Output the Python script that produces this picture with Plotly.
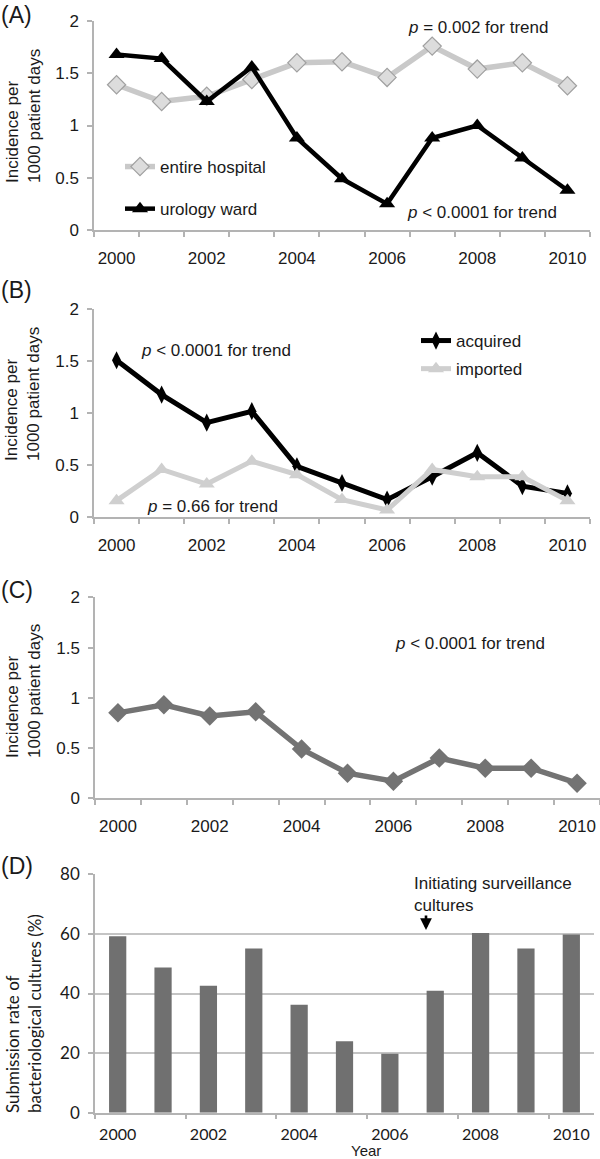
import plotly.graph_objects as go

# ---------------- data ----------------
years = [2000, 2001, 2002, 2003, 2004, 2005, 2006, 2007, 2008, 2009, 2010]
tick_years = [2000, 2002, 2004, 2006, 2008, 2010]

entire_hospital = [1.39, 1.23, 1.28, 1.44, 1.60, 1.61, 1.46, 1.76, 1.54, 1.60, 1.38]
urology_ward = [1.68, 1.64, 1.23, 1.56, 0.88, 0.49, 0.25, 0.88, 1.00, 0.69, 0.38]

acquired = [1.51, 1.18, 0.91, 1.02, 0.49, 0.33, 0.17, 0.39, 0.62, 0.30, 0.23]
imported = [0.16, 0.46, 0.32, 0.54, 0.41, 0.17, 0.07, 0.46, 0.39, 0.39, 0.16]

overall_c = [0.85, 0.93, 0.82, 0.86, 0.49, 0.25, 0.17, 0.40, 0.30, 0.30, 0.15]

submission_rate = [59.2, 48.7, 42.6, 55.1, 36.2, 24.0, 19.8, 40.9, 60.3, 55.1, 59.8]

# ---------------- styling ----------------
W, H = 600, 1159
ARIAL = "Liberation Sans, Arial, sans-serif"
CALIBRI = "Lato, Carlito, Open Sans, sans-serif"
AXIS_COLOR = "#b3b3b3"
TEXT_COLOR = "#1a1a1a"


def px_x(p):
    return p / W


def px_y(p):
    return 1 - p / H


fig = go.Figure()

# Panel A
fig.add_trace(go.Scatter(
    x=years, y=entire_hospital, name="entire hospital", mode="lines+markers",
    line=dict(color="#c9c9c9", width=5.5),
    marker=dict(symbol="diamond", size=14, color="#dcdcdc", line=dict(color="#a0a0a0", width=1.2)),
    xaxis="x", yaxis="y", legend="legend", legendgroup="a1"))
fig.add_trace(go.Scatter(
    x=years, y=urology_ward, name="urology ward", mode="lines+markers",
    line=dict(color="#000000", width=4.5),
    marker=dict(symbol="triangle-up", size=14, color="#000000"),
    xaxis="x", yaxis="y", legend="legend", legendgroup="a2"))

# Panel B
fig.add_trace(go.Scatter(
    x=years, y=acquired, name="acquired", mode="lines+markers",
    line=dict(color="#000000", width=5),
    marker=dict(symbol="diamond-tall", size=13, color="#000000"),
    xaxis="x2", yaxis="y2", legend="legend2", legendgroup="b1"))
fig.add_trace(go.Scatter(
    x=years, y=imported, name="imported", mode="lines+markers",
    line=dict(color="#cfcfcf", width=5),
    marker=dict(symbol="triangle-up", size=14, color="#cfcfcf"),
    xaxis="x2", yaxis="y2", legend="legend2", legendgroup="b2"))

# Panel C
fig.add_trace(go.Scatter(
    x=years, y=overall_c, mode="lines+markers", showlegend=False,
    line=dict(color="#737373", width=5.5),
    marker=dict(symbol="diamond", size=15, color="#737373"),
    xaxis="x3", yaxis="y3"))

# Panel D
fig.add_trace(go.Bar(
    x=years, y=submission_rate, showlegend=False,
    marker=dict(color="#707070", line=dict(width=0)),
    xaxis="x4", yaxis="y4"))

xr = [years[0] - 0.5, years[-1] + 0.5]


def xaxis(domain, anchor, minor_step, font, ticklen):
    return dict(
        domain=domain, anchor=anchor, range=xr, tickmode="array", tickvals=tick_years,
        ticks="outside", ticklen=ticklen, tickcolor="rgba(0,0,0,0)",
        showline=True, linecolor=AXIS_COLOR, linewidth=1.5,
        showgrid=False, zeroline=False, fixedrange=True, automargin=False,
        tickfont=font,
        minor=dict(tick0=xr[0], dtick=minor_step, ticks="outside", ticklen=5,
                   tickcolor=AXIS_COLOR, tickwidth=1.5, showgrid=False),
    )


def yaxis(domain, anchor, rng, dtick, font, grid=False):
    return dict(
        domain=domain, anchor=anchor, range=rng, dtick=dtick, tick0=0,
        ticks="outside", ticklen=5, tickcolor=AXIS_COLOR, tickwidth=1.5,
        ticklabelstandoff=5, automargin=False,
        showline=True, linecolor=AXIS_COLOR, linewidth=1.5,
        showgrid=grid, gridcolor="#c4c4c4", gridwidth=1.5,
        zeroline=False, fixedrange=True, tickfont=font,
    )


tf = dict(family=ARIAL, size=17, color=TEXT_COLOR)
tfd = dict(family=CALIBRI, size=16, color=TEXT_COLOR)

fig.update_layout(
    width=W, height=H, margin=dict(l=0, r=0, t=0, b=0, autoexpand=False),
    paper_bgcolor="white", plot_bgcolor="white",
    font=dict(family=ARIAL, size=17, color=TEXT_COLOR),
    xaxis=xaxis([px_x(94), px_x(590)], "y", 1, tf, 12),
    yaxis=yaxis([px_y(230), px_y(21)], "x", [0, 2], 0.5, tf),
    xaxis2=xaxis([px_x(94), px_x(590)], "y2", 1, tf, 12),
    yaxis2=yaxis([px_y(517.3), px_y(309.3)], "x2", [0, 2], 0.5, tf),
    xaxis3=xaxis([px_x(95), px_x(600)], "y3", 1, tf, 12),
    yaxis3=yaxis([px_y(798.3), px_y(597.3)], "x3", [0, 2], 0.5, tf),
    xaxis4=xaxis([px_x(95), px_x(594)], "y4", 2, tfd, 6),
    yaxis4=yaxis([px_y(1112.7), px_y(874.3)], "x4", [0, 80], 20,
                 dict(family=CALIBRI, size=17, color=TEXT_COLOR), grid=True),
    bargap=0.62,
    legend=dict(x=px_x(120), y=px_y(149), xanchor="left", yanchor="top",
                bgcolor="rgba(0,0,0,0)", borderwidth=0, tracegroupgap=17,
                font=dict(family=ARIAL, size=17, color=TEXT_COLOR)),
    legend2=dict(x=px_x(416), y=px_y(323), xanchor="left", yanchor="top",
                 bgcolor="rgba(0,0,0,0)", borderwidth=0, tracegroupgap=3,
                 font=dict(family=ARIAL, size=17, color=TEXT_COLOR)),
)

ann = []


def text(t, x, y, xanchor="left", font=None, **kw):
    ann.append(dict(text=t, x=px_x(x), y=px_y(y), xref="paper", yref="paper",
                    xanchor=xanchor, yanchor="middle", showarrow=False,
                    font=font or dict(family=ARIAL, size=17, color=TEXT_COLOR), **kw))


# panel labels
for lab, yy in [("(A)", 15), ("(B)", 290), ("(C)", 590), ("(D)", 866)]:
    text(lab, -1, yy, font=dict(family=ARIAL, size=23, color=TEXT_COLOR))

# y titles
ytitle = "Incidence per<br>1000 patient days"
for yy in [116, 394, 691]:
    text(ytitle, 23, yy, xanchor="center", textangle=-90, align="left")
text("Submission rate of<br>bacteriological cultures (%)", 23, 1014, xanchor="center",
     textangle=-90, align="left", font=dict(family=CALIBRI, size=17, color=TEXT_COLOR))

# p-values
text("<i>p</i> = 0.002 for trend", 406, 27)
text("<i>p</i> < 0.0001 for trend", 405, 213)
text("<i>p</i> < 0.0001 for trend", 139, 350)
text("<i>p</i> = 0.66 for trend", 145, 506)
text("<i>p</i> < 0.0001 for trend", 393, 643)

# panel D notes
text("Initiating surveillance<br>cultures", 412, 894, align="left")
text("Year", 366, 1150, xanchor="center", font=dict(family=ARIAL, size=15, color=TEXT_COLOR))
ann.append(dict(x=px_x(426), y=px_y(930), xref="paper", yref="paper", text="",
                showarrow=True, ax=0, ay=-16, arrowhead=2, arrowsize=0.9,
                arrowwidth=2.6, arrowcolor="#000000", standoff=0))

fig.update_layout(annotations=ann)

fig.write_html("out.html", config={"displayModeBar": False},
               post_script="document.body.style.margin='0';document.body.style.padding='0';")
